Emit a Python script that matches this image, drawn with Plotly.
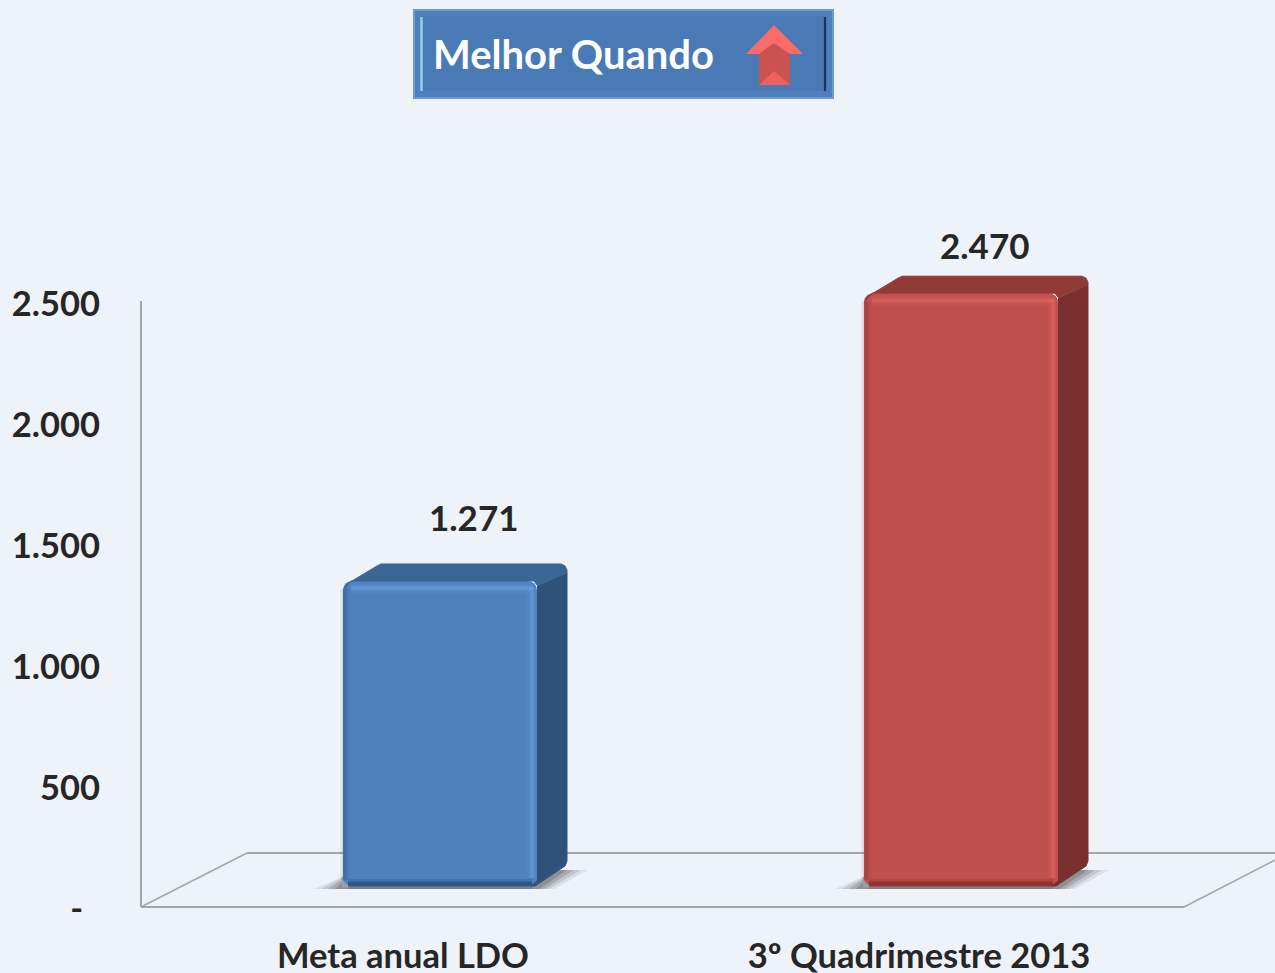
import plotly.graph_objects as go

categories = ["Meta anual LDO", "3º Quadrimestre 2013"]
values = [1271, 2470]
value_labels = ["1.271", "2.470"]
y_ticks = [0, 500, 1000, 1500, 2000, 2500]
y_tick_labels = ["-\u00a0\u00a0", "500", "1.000", "1.500", "2.000", "2.500"]
front_colors = ["#4f81bd", "#c0504d"]
top_colors = ["#3a6594", "#913a38"]
side_colors = ["#2f527b", "#7a302e"]
light_colors = ["#6fa6ea", "#ee6b67"]
dark_colors = ["#234a78", "#7e2c2a"]

W, H = 1275, 973
L, B = 141, 907          # plot-area left edge and bottom edge in page pixels
BG = "#eef2f9"
TXT = "#262626"
FONT = "Lato, Carlito, Calibri, sans-serif"

PX_X = 521.0             # pixels per category step
X0 = 440.0               # page pixel of first bar centre
BAR_W = 194 / PX_X
PX_Y = 121 / 500         # axis scale
PX_Y2 = 0.24             # scale of the bars' projected plane
FLOOR = 886              # page pixel of the bars' base
DX, DY = 30, 18          # 3D depth in pixels


def dx(p):
    return p / PX_X


def dy(p):
    return p / PX_Y2


def X(p):
    return (p - X0) / PX_X


def px(p):
    return (p - L) / (W - L)


def py(p):
    return (B - p) / B


fig = go.Figure()

xrange_ = [X(L), X(W)]
y_range = [0, B / PX_Y]
y2_range = [(FLOOR - B) / PX_Y2, FLOOR / PX_Y2]

shapes = []


def paper_poly(points, fill, line=None, layer="above", width=0):
    d = "M" + " L".join(f"{px(a):.5f},{py(b):.5f}" for a, b in points) + " Z"
    shapes.append(dict(type="path", xref="paper", yref="paper", path=d,
                       fillcolor=fill, layer=layer,
                       line=dict(color=line or "rgba(0,0,0,0)", width=width)))


def paper_line(x0, y0, x1, y1, color, width, layer="below"):
    shapes.append(dict(type="line", xref="paper", yref="paper",
                       x0=px(x0), y0=py(y0), x1=px(x1), y1=py(y1), layer=layer,
                       line=dict(color=color, width=width)))


# floor and wall
GRID = "#a6a6a6"
paper_line(141, 301, 141, 907, GRID, 2)
paper_line(141, 907, 1184, 907, GRID, 2)
paper_line(141, 907, 247, 853, GRID, 1.6)
paper_line(247, 853, 1275, 853, GRID, 2)
paper_line(1184, 907, 1275, 860, GRID, 1.6)

# soft contact shadows
for i, _ in enumerate(values):
    c = X0 + i * PX_X
    l, r = c - 97, c + 97
    for k, op in enumerate([0.10, 0.16, 0.22, 0.26]):
        g = 3 - k
        paper_poly([(l - 8 - 7 * g, 889), (l + 10, 872), (r + 30 + 7 * g, 870),
                    (r + 2 + 5 * g, 889)],
                   f"rgba(70,70,70,{op})", layer="below")

# callout box
paper_poly([(413, 9), (834, 9), (834, 99), (413, 99)], "#6d9bd1", layer="above")
paper_poly([(415, 11), (832, 11), (832, 97), (415, 97)], "#4f7fbd", layer="above")
paper_poly([(421, 16), (826, 16), (826, 91), (421, 91)], "#4a7ab5", layer="above")
paper_line(421.5, 17, 421.5, 91, "#93d3ef", 2.4, layer="above")
paper_line(825, 17, 825, 91, "#1c3557", 2.2, layer="above")
# arrow icon
paper_poly([(774, 25), (803, 54), (790, 54), (790, 85), (759, 85), (759, 54), (746, 54)],
           "#fb6b67", layer="above")
paper_poly([(774, 43), (790, 54), (790, 85), (759, 85), (759, 54)], "#c95350", layer="above")
paper_poly([(774, 71), (790, 85), (759, 85)], "#ee625e", layer="above")

# empty trace keeps the labelled value axis on the page
fig.add_trace(go.Scatter(x=[None], y=[None], mode="lines", showlegend=False, hoverinfo="skip"))

# bars
fig.add_trace(go.Bar(
    x=[0, 1], y=values, width=BAR_W, marker=dict(color=front_colors, line=dict(width=0)),
    yaxis="y2", showlegend=False, hoverinfo="skip"))


def poly(xs, ys, color):
    fig.add_trace(go.Scatter(
        x=xs, y=ys, mode="lines", fill="toself", fillcolor=color, line=dict(width=1, color=color),
        yaxis="y2", showlegend=False, hoverinfo="skip"))


def soft(xs, ys, color, strength=1.0):
    for w, op in [(10, 0.10), (6, 0.18), (3, 0.30)]:
        fig.add_trace(go.Scatter(
            x=xs, y=ys, mode="lines", line=dict(color=color, width=w), opacity=op * strength,
            yaxis="y2", showlegend=False, hoverinfo="skip"))


SHADOW = "#9a9ea6"

# 3D faces and bevels derived from each value
for i, v in enumerate(values):
    l, r = i - BAR_W / 2, i + BAR_W / 2
    t = v
    # side face
    poly([r, r + dx(DX), r + dx(DX), r + dx(DX - 2), r + dx(-2), r + dx(-6), r],
         [t - dy(5), t + dy(DY - 10), dy(DY + 7), dy(DY + 2), dy(0), dy(0), dy(5)],
         side_colors[i])
    # top face, back edge rounded at both ends
    poly([l + dx(1), l + dx(4), l + dx(34), l + dx(38), r + dx(24), r + dx(28), r + dx(30), r + dx(30),
          r, r - dx(3), l + dx(8), l + dx(1)],
         [t - dy(8), t - dy(3), t + dy(DY - 3), t + dy(DY - 1), t + dy(DY - 1), t + dy(DY - 3),
          t + dy(DY - 7), t + dy(DY - 10), t - dy(4), t, t, t - dy(8)],
         top_colors[i])
    # rounded bottom-left corner of the front face
    poly([l - dx(1), l + dx(8), l + dx(3), l, l - dx(1)],
         [dy(-1), dy(-1), dy(1.5), dy(5), dy(9)], SHADOW)
    # bevels
    soft([l + dx(8), r - dx(4)], [t - dy(7), t - dy(7)], light_colors[i], 1.2)
    soft([r - dx(5), r - dx(5)], [t - dy(6), dy(8)], light_colors[i], 1.0)
    soft([l + dx(2), l + dx(2)], [t - dy(8), dy(6)], dark_colors[i], 0.6)
    soft([l + dx(5), r - dx(5)], [dy(2), dy(2)], dark_colors[i], 2.0)

annotations = [
    dict(x=px(573), y=py(54), xref="paper", yref="paper", text="<b>Melhor Quando</b>",
         showarrow=False, font=dict(family=FONT, size=40, color="white"),
         xanchor="center", yanchor="middle"),
]
label_dx = [34, 24]
label_dy = [64, 48]
for i, v in enumerate(values):
    annotations.append(dict(
        x=i, y=v, xref="x", yref="y2", text=f"<b>{value_labels[i]}</b>", showarrow=False,
        xshift=label_dx[i], yshift=label_dy[i], xanchor="center", yanchor="middle",
        font=dict(family=FONT, size=35, color=TXT)))

fig.update_layout(
    width=W, height=H, margin=dict(l=L, r=0, t=0, b=H - B, pad=0),
    paper_bgcolor=BG, plot_bgcolor=BG, barcornerradius=9, barmode="overlay",
    showlegend=False, shapes=shapes, annotations=annotations,
    xaxis=dict(range=xrange_, tickmode="array", tickvals=[X(403), X(919)], automargin=False,
               ticktext=[f"<b>{c}</b>" for c in categories], showgrid=False, zeroline=False,
               showline=False, ticks="", ticklabelstandoff=25,
               tickfont=dict(family=FONT, size=34.5, color=TXT)),
    yaxis=dict(range=y_range, tickmode="array", tickvals=y_ticks, automargin=False,
               ticktext=[f"<b>{t}</b>" for t in y_tick_labels], showgrid=False, zeroline=False,
               showline=False, ticks="", ticklabelstandoff=40, ticklabelshift=2,
               tickfont=dict(family=FONT, size=34.5, color=TXT)),
    yaxis2=dict(range=y2_range, overlaying="y", visible=False),
)

fig.write_html("out.html", config={"displayModeBar": False},
               post_script="document.body.style.margin='0';")
